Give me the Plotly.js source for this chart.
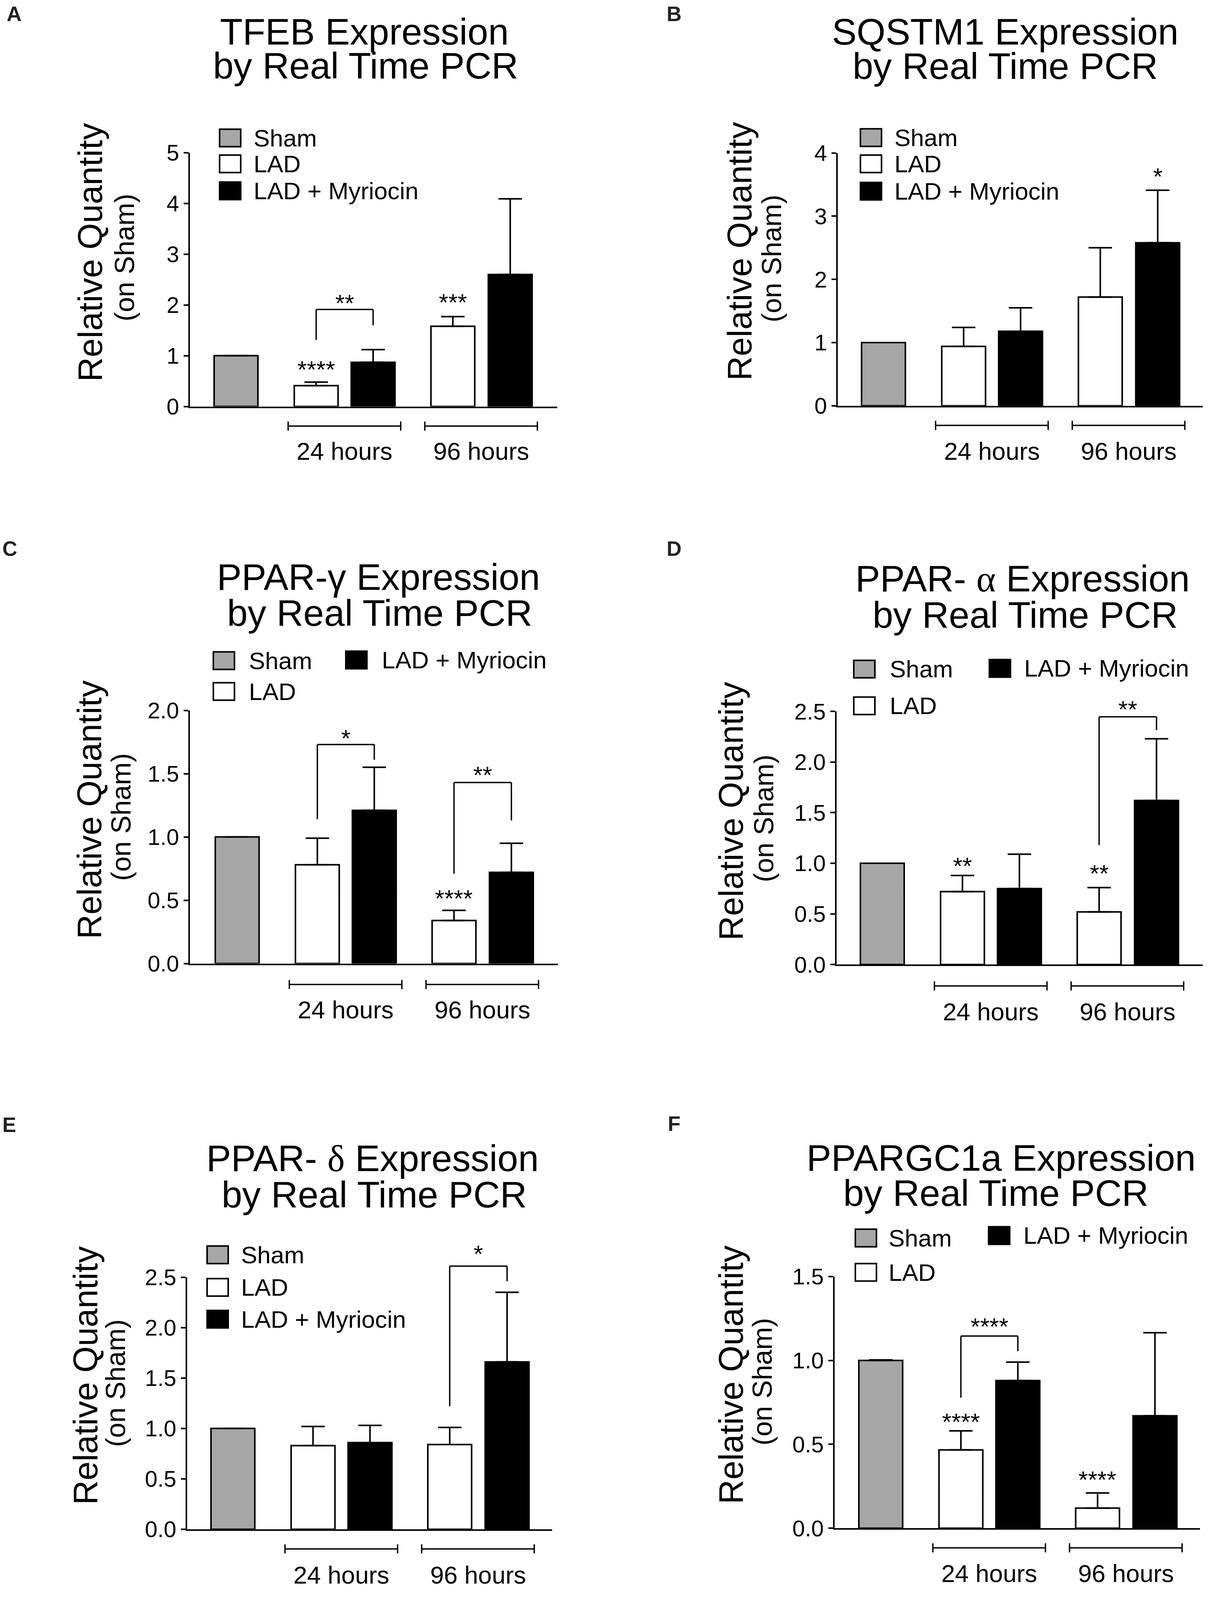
<!DOCTYPE html>
<html>
<head>
<meta charset="utf-8">
<script src="https://cdn.plot.ly/plotly-3.0.1.min.js"></script>
<style>
html,body{margin:0;padding:0;background:#ffffff;overflow:hidden;}
#chart{width:3112px;}
</style>
</head>
<body>
<div id="chart"></div>
<script>
// ---------------- DATA ----------------
const groupNames = ['Sham', 'LAD', 'LAD + Myriocin'];
const timeLabels = ['24 hours', '96 hours'];
// bar order: Sham, LAD 24h, LAD+Myr 24h, LAD 96h, LAD+Myr 96h
const tfebMean     = [1.00, 0.41, 0.87, 1.58, 2.60];
const tfebSem      = [0.00, 0.07, 0.25, 0.19, 1.49];
const sqstm1Mean   = [1.00, 0.94, 1.18, 1.72, 2.58];
const sqstm1Sem    = [0.00, 0.30, 0.37, 0.78, 0.83];
const pparGMean    = [1.00, 0.78, 1.21, 0.34, 0.72];
const pparGSem     = [0.00, 0.21, 0.34, 0.08, 0.23];
const pparAMean    = [1.00, 0.72, 0.75, 0.52, 1.62];
const pparASem     = [0.00, 0.16, 0.34, 0.24, 0.61];
const pparDMean    = [1.00, 0.83, 0.86, 0.84, 1.66];
const pparDSem     = [0.00, 0.19, 0.17, 0.17, 0.69];
const ppargc1aMean = [1.00, 0.467, 0.88, 0.12, 0.67];
const ppargc1aSem  = [0.003, 0.113, 0.11, 0.09, 0.495];

// significance marks (bar index, label, level in data units)
const tfebStars     = [{bar:1, text:'****', y:0.83}, {bar:3, text:'***', y:2.15}];
const tfebBrackets  = [{from:1, to:2, left:1.31, top:1.91, right:1.60, text:'**', textY:2.14}];
const sqstm1Stars   = [{bar:4, text:'*', y:3.71}];
const sqstm1Brackets= [];
const pparGStars    = [{bar:3, text:'****', y:0.555}];
const pparGBrackets = [{from:1, to:2, left:1.14, top:1.73, right:1.61, text:'*', textY:1.82},
                       {from:3, to:4, left:0.71, top:1.43, right:1.13, text:'**', textY:1.53}];
const pparAStars    = [{bar:1, text:'**', y:1.024}, {bar:3, text:'**', y:0.95}];
const pparABrackets = [{from:3, to:4, left:1.18, top:2.447, right:2.315, text:'**', textY:2.57}];
const pparDStars    = [];
const pparDBrackets = [{from:3, to:4, left:1.22, top:2.61, right:2.46, text:'*', textY:2.78}];
const ppargStars    = [{bar:1, text:'****', y:0.664}, {bar:3, text:'****', y:0.319}];
const ppargBrackets = [{from:1, to:2, left:0.778, top:1.145, right:1.055, text:'****', textY:1.231}];

// ---------------- LAYOUT CONSTANTS ----------------
const W = 3112, H = 4570;
// the visible page may be shorter than the design height: fit everything vertically
const VH = Math.min(H, window.innerHeight || H);
const S = VH / H;
const FS = Math.sqrt(S);
document.getElementById('chart').style.height = VH + 'px';

const FONT = 'Liberation Sans, Arial, Helvetica, sans-serif';
const barPos = [0, 1.83, 3.13, 4.95, 6.26];
const seriesOfBar = [0, 1, 2, 1, 2];
const barWidth = 1.0;
const unitPx = 112.1;
const fills = ['#a6a6a6', '#ffffff', '#000000'];
const groupSpan = [[1.19, 3.76], [4.31, 6.88]];

const panels = [
  {letter:'A', title:['TFEB Expression','by Real Time PCR'], mean:tfebMean, sem:tfebSem, stars:tfebStars, brackets:tfebBrackets, ymax:5, dtick:1, fmt:'',
   g:{axL:486, axR:1426, y0:1161, yTop:436, shamC:604, titleX:[932,935], titleY:[90,187], rq:[230,720], os:[319,736],
      legend:[[589,394,647],[589,468,647],[589,545,647]], grpY:1217, grpLabY:1289, letterXY:[36,40]}},
  {letter:'B', title:['SQSTM1 Expression','by Real Time PCR'], mean:sqstm1Mean, sem:sqstm1Sem, stars:sqstm1Stars, brackets:sqstm1Brackets, ymax:4, dtick:1, fmt:'',
   g:{axL:2144, axR:3078, y0:1159, yTop:437, shamC:2261, titleX:[2572,2572], titleY:[90,189], rq:[1893,718], os:[1975,739],
      legend:[[2229,393,2287],[2229,468,2287],[2229,546,2287]], grpY:1215, grpLabY:1289, letterXY:[1725,40]}},
  {letter:'C', title:['PPAR-γ Expression','by Real Time PCR'], mean:pparGMean, sem:pparGSem, stars:pparGStars, brackets:pparGBrackets, ymax:2, dtick:0.5, fmt:'.1f',
   g:{axL:486, axR:1428, y0:2752, yTop:2029, shamC:607, titleX:[968,972], titleY:[1648,1751], rq:[228,2313], os:[310,2334],
      legend:[[573,1887,635],[573,1975,635],[912,1885,975]], grpY:2812, grpLabY:2884, letterXY:[25,1567]}},
  {letter:'D', title:['PPAR- <span style="font-family:Liberation Serif">α</span> Expression','by Real Time PCR'], mean:pparAMean, sem:pparASem, stars:pparAStars, brackets:pparABrackets, ymax:2.5, dtick:0.5, fmt:'.1f',
   g:{axL:2141, axR:3078, y0:2755, yTop:2032, shamC:2258, titleX:[2617,2623], titleY:[1653,1756], rq:[1871,2317], os:[1955,2338],
      legend:[[2212,1911,2275],[2212,2016,2275],[2559,1909,2619]], grpY:2816, grpLabY:2890, letterXY:[1725,1567]}},
  {letter:'E', title:['PPAR- <span style="font-family:Liberation Serif">δ</span> Expression','by Real Time PCR'], mean:pparDMean, sem:pparDSem, stars:pparDStars, brackets:pparDBrackets, ymax:2.5, dtick:0.5, fmt:'.1f',
   g:{axL:479, axR:1413, y0:4368, yTop:3648, shamC:596, titleX:[953,957], titleY:[3309,3412], rq:[218,3929], os:[296,3951],
      legend:[[557,3584,615],[557,3677,615],[557,3768,615]], grpY:4424, grpLabY:4499, letterXY:[23,3213]}},
  {letter:'F', title:['PPARGC1a Expression','by Real Time PCR'], mean:ppargc1aMean, sem:ppargc1aSem, stars:ppargStars, brackets:ppargBrackets, ymax:1.5, dtick:0.5, fmt:'.1f',
   g:{axL:2136, axR:3071, y0:4365, yTop:3646, shamC:2254, titleX:[2562,2548], titleY:[3307,3407], rq:[1871,3927], os:[1951,3947],
      legend:[[2216,3536,2272],[2216,3634,2272],[2557,3529,2617]], grpY:4421, grpLabY:4494, letterXY:[1725,3209]}}
];

const px = x => x / W;
const py = y => 1 - y / H;
const fsz = s => Math.round(s * FS);

const traces = [], shapes = [], annotations = [];
const layout = {
  width: W, height: VH, margin: {l:0, r:0, t:0, b:0},
  paper_bgcolor: '#ffffff', plot_bgcolor: 'rgba(0,0,0,0)',
  showlegend: false, barmode: 'overlay',
  font: {family: FONT, color: '#000000'}
};

const blackLine = {color:'#000000', width:4};
const bracketLine = {color:'#000000', width:3.5};
const starShift = -14 * S;

panels.forEach((p, k) => {
  const n = k === 0 ? '' : String(k + 1);
  const xa = 'x' + n, ya = 'y' + n;
  const g = p.g;
  const r0 = (g.axL - g.shamC) / unitPx, r1 = (g.axR - g.shamC) / unitPx;
  const fx = x => (x - r0) / (r1 - r0);
  const fy = y => y / p.ymax;
  const pyData = v => py(g.y0 - fy(v) * (g.y0 - g.yTop));

  layout['xaxis' + n] = {
    domain: [px(g.axL), px(g.axR)], range: [r0, r1], anchor: ya,
    showline: true, linecolor: '#000000', linewidth: 4,
    ticks: '', showticklabels: false, showgrid: false, zeroline: false, fixedrange: true
  };
  layout['yaxis' + n] = {
    domain: [py(g.y0), py(g.yTop)], range: [0, p.ymax], anchor: xa,
    tickmode: 'linear', tick0: 0, dtick: p.dtick, tickformat: p.fmt,
    ticks: 'outside', ticklen: 12, tickwidth: 4, tickcolor: '#000000',
    tickfont: {family: FONT, size: fsz(61), color: '#000000'},
    showline: true, linecolor: '#000000', linewidth: 4,
    showgrid: false, zeroline: false, fixedrange: true
  };

  // bars
  [0, 1, 2].forEach(s => {
    const ids = [0, 1, 2, 3, 4].filter(i => seriesOfBar[i] === s);
    traces.push({
      type: 'bar', name: groupNames[s], xaxis: xa, yaxis: ya,
      x: ids.map(i => barPos[i]), y: ids.map(i => p.mean[i]), width: barWidth,
      marker: {color: fills[s], line: blackLine},
      error_y: {type: 'data', symmetric: false, array: ids.map(i => p.sem[i]), arrayminus: ids.map(() => 0),
                color: '#000000', thickness: 4, width: 30, visible: true},
      hoverinfo: 'skip'
    });
  });

  // single-bar stars
  p.stars.forEach(st => annotations.push({
    xref: xa, yref: 'paper', x: barPos[st.bar], y: pyData(st.y), text: st.text, showarrow: false,
    xanchor: 'center', yanchor: 'middle', yshift: starShift, font: {family: FONT, size: fsz(66), color: '#000000'}
  }));

  // comparison brackets
  p.brackets.forEach(b => {
    const xl = fx(barPos[b.from]), xr = fx(barPos[b.to]);
    const base = {type: 'line', xref: xa + ' domain', yref: ya + ' domain', line: bracketLine};
    shapes.push(Object.assign({}, base, {x0: xl, x1: xl, y0: fy(b.left), y1: fy(b.top)}));
    shapes.push(Object.assign({}, base, {x0: xl, x1: xr, y0: fy(b.top), y1: fy(b.top)}));
    shapes.push(Object.assign({}, base, {x0: xr, x1: xr, y0: fy(b.top), y1: fy(b.right)}));
    annotations.push({
      xref: xa, yref: 'paper', x: (barPos[b.from] + barPos[b.to]) / 2, y: pyData(b.textY), text: b.text, showarrow: false,
      xanchor: 'center', yanchor: 'middle', yshift: starShift, font: {family: FONT, size: fsz(66), color: '#000000'}
    });
  });

  // time-group brackets below the axis
  groupSpan.forEach((sp, j) => {
    const x0 = fx(sp[0]), x1 = fx(sp[1]);
    const base = {type: 'line', xref: xa + ' domain', yref: 'paper', line: bracketLine};
    shapes.push(Object.assign({}, base, {x0: x0, x1: x1, y0: py(g.grpY), y1: py(g.grpY)}));
    shapes.push(Object.assign({}, base, {x0: x0, x1: x0, y0: py(g.grpY - 13), y1: py(g.grpY + 13)}));
    shapes.push(Object.assign({}, base, {x0: x1, x1: x1, y0: py(g.grpY - 13), y1: py(g.grpY + 13)}));
    annotations.push({
      xref: xa, yref: 'paper', x: (sp[0] + sp[1]) / 2, y: py(g.grpLabY), text: timeLabels[j], showarrow: false,
      xanchor: 'center', yanchor: 'middle', font: {family: FONT, size: fsz(67), color: '#000000'}
    });
  });

  // legend (swatches + labels)
  g.legend.forEach((L, s) => {
    shapes.push({type: 'rect', xref: 'paper', yref: 'paper',
      x0: px(L[0] - 27), x1: px(L[0] + 27), y0: py(L[1] + 25), y1: py(L[1] - 25),
      fillcolor: fills[s], line: blackLine});
    annotations.push({xref: 'paper', yref: 'paper', x: px(L[2]), y: py(L[1]), text: groupNames[s], showarrow: false,
      xanchor: 'left', yanchor: 'middle', font: {family: FONT, size: fsz(66), color: '#000000'}});
  });

  // titles
  p.title.forEach((t, j) => annotations.push({
    xref: 'paper', yref: 'paper', x: px(g.titleX[j]), y: py(g.titleY[j]), text: t, showarrow: false,
    xanchor: 'center', yanchor: 'middle', font: {family: FONT, size: fsz(100), color: '#000000'}
  }));

  // y-axis titles
  annotations.push({xref: 'paper', yref: 'paper', x: px(g.rq[0]), y: py(g.rq[1]), text: 'Relative Quantity',
    textangle: -90, showarrow: false, xanchor: 'center', yanchor: 'middle', font: {family: FONT, size: fsz(92), color: '#000000'}});
  annotations.push({xref: 'paper', yref: 'paper', x: px(g.os[0]), y: py(g.os[1]), text: '(on Sham)',
    textangle: -90, showarrow: false, xanchor: 'center', yanchor: 'middle', font: {family: FONT, size: fsz(74), color: '#000000'}});

  // panel letter
  annotations.push({xref: 'paper', yref: 'paper', x: px(g.letterXY[0]), y: py(g.letterXY[1]), text: '<b>' + p.letter + '</b>',
    showarrow: false, xanchor: 'center', yanchor: 'middle', font: {family: FONT, size: fsz(56), color: '#222222'}});
});

layout.shapes = shapes;
layout.annotations = annotations;

Plotly.newPlot('chart', traces, layout, {staticPlot: true, displayModeBar: false});
</script>
</body>
</html>
